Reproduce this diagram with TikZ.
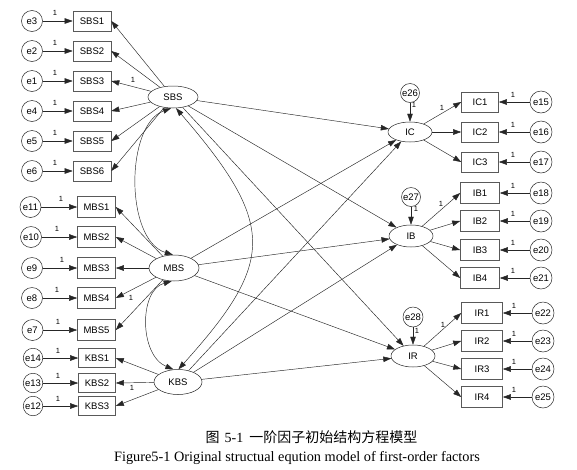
\documentclass[tikz,border=0pt]{standalone}
\usepackage{fontspec}
\setmainfont{Liberation Sans}
\newfontfamily\capfont{Liberation Serif}
\newfontfamily\cjk{Noto Sans CJK SC}
\usetikzlibrary{arrows.meta,shapes.geometric}
\begin{document}
\begin{tikzpicture}[x=1pt,y=-1pt,
  font=\fontsize{9.5}{10}\selectfont,
  lat/.style={ellipse,draw=black!85,line width=0.5pt,inner sep=0pt,minimum width=50pt,minimum height=22pt},
  obs/.style={rectangle,draw=black!65,line width=0.6pt,inner sep=0pt,minimum width=38pt,minimum height=20pt},
  err/.style={circle,draw=black!85,line width=0.5pt,inner sep=0pt,minimum size=21pt},
  arr/.style={-{Triangle[length=8pt,width=5.5pt]},line width=0.45pt,draw=black!85},
  cov/.style={{Triangle[length=8pt,width=5.5pt]}-{Triangle[length=8pt,width=5.5pt]},line width=0.45pt,draw=black!85},
  one/.style={font=\fontsize{7.5}{8}\selectfont,inner sep=0pt}
]
\fill[white] (0,0) rectangle (577,469);
\useasboundingbox (0,0) rectangle (577,469);

% latent variables
\node[lat] (SBS) at (173,97) {SBS};
\node[lat,minimum height=26pt] (MBS) at (174,268) {MBS};
\node[lat,minimum width=48pt,minimum height=25pt] (KBS) at (178,382) {KBS};
\node[lat,minimum width=44pt,minimum height=20pt] (IC) at (410,132) {IC};
\node[lat,minimum width=44pt] (IB) at (411,236) {IB};
\node[lat,minimum width=44pt] (IR) at (413,356) {IR};

% SBS indicators
\foreach \i/\y/\e in {1/21/e3,2/51/e2,3/81/e1,4/111/e4,5/141/e5,6/171/e6}{
  \node[obs] (SBS\i) at (92,\y) {SBS\i};
  \node[err] (\e) at (32,\y) {\e};
  \draw[arr] (\e) -- (SBS\i.west);
  \draw[arr] (SBS) -- (SBS\i.east);
  \node[one] at (55,\y-8) {1};
}
\node[one] (lSBS) at (133,80) {1};

% MBS indicators
\foreach \i/\y/\ex/\e/\lx in {1/207/30.5/e11/61,2/237/31/e10/57,3/268/32/e9/62,4/298/32/e8/57,5/330/32.5/e7/58}{
  \node[obs,minimum height=21pt] (MBS\i) at (96.5,\y) {MBS\i};
  \node[err] (\e) at (\ex,\y) {\e};
  \draw[arr] (\e) -- (MBS\i.west);
  \draw[arr] (MBS) -- (MBS\i.east);
  \node[one] at (\lx,\y-8) {1};
}
\node[one] (lMBS) at (131,298) {1};

% KBS indicators
\foreach \i/\y/\e in {1/358/e14,2/383/e13,3/406/e12}{
  \node[obs,minimum width=37pt,minimum height=19pt] (KBS\i) at (97,\y) {KBS\i};
  \node[err,minimum size=19.5pt] (\e) at (33,\y) {\e};
  \draw[arr] (\e) -- (KBS\i.west);
  \draw[arr] (KBS) -- (KBS\i.east);
  \node[one] at (58,\y-7) {1};
}
\node[one] (lKBS) at (132,388) {1};

% IC indicators
\foreach \i/\y/\e in {1/102/e15,2/132/e16,3/162/e17}{
  \node[obs,minimum width=37pt] (IC\i) at (480,\y) {IC\i};
  \node[err,minimum size=22pt] (\e) at (541,\y) {\e};
  \draw[arr] (\e) -- (IC\i.east);
  \draw[arr] (IC) -- (IC\i.west);
  \node[one] at (513,\y-7) {1};
}
% IB indicators
\foreach \i/\y/\e in {1/193/e18,2/221/e19,3/250/e20,4/278/e21}{
  \node[obs,minimum width=39pt,minimum height=21pt] (IB\i) at (480,\y) {IB\i};
  \node[err,minimum size=22pt] (\e) at (541,\y) {\e};
  \draw[arr] (\e) -- (IB\i.east);
  \draw[arr] (IB) -- (IB\i.west);
  \node[one] at (513,\y-7) {1};
}
% IR indicators
\foreach \i/\y/\e in {1/313/e22,2/341/e23,3/369/e24,4/397/e25}{
  \node[obs,minimum width=41pt,minimum height=21pt] (IR\i) at (482,\y) {IR\i};
  \node[err,minimum size=22pt] (\e) at (543,\y) {\e};
  \draw[arr] (\e) -- (IR\i.east);
  \draw[arr] (IR) -- (IR\i.west);
  \node[one] at (514,\y-7) {1};
}
\node[one] (lIC) at (442,108) {1};
\node[one] (lIB) at (441,204) {1};
\node[one] (lIR) at (443,325) {1};

% disturbances
\node[err,minimum size=19pt] (e26) at (410,93) {e26};
\node[err,minimum size=19pt] (e27) at (411,197) {e27};
\node[err,minimum size=20pt] (e28) at (413,317) {e28};
\draw[arr] (e26) -- (IC);
\draw[arr] (e27) -- (IB);
\draw[arr] (e28) -- (IR);
\node[one] (l26) at (414,105) {1};
\node[one] (l27) at (416,209) {1};
\node[one] (l28) at (417,331) {1};

% structural paths
\foreach \a in {SBS,MBS,KBS}{
  \foreach \b in {IC,IB,IR}{
    \draw[arr] (\a) -- (\b);
  }
}

% covariances
\draw[cov] (SBS.260) .. controls (125,125) and (125,240) .. (MBS.95);
\draw[cov] (SBS.285) .. controls (277,225) and (275,262) .. (KBS.88);
\draw[cov] (MBS.260) .. controls (139,290) and (139,355) .. (KBS.110);

% captions
\node[inner sep=0pt] (cap1) at (311.5,437) {{\cjk\fontsize{14}{15}\selectfont 图}\hspace{5pt}{\capfont\fontsize{14}{15}\selectfont 5-1}\hspace{6pt}{\cjk\fontsize{14}{15}\selectfont 一阶因子初始结构方程模型}};
\node[inner sep=0pt,font=\capfont\fontsize{14.3}{15}\selectfont] (cap2) at (297,458) {Figure5-1 Original structual eqution model of first-order factors};
\end{tikzpicture}
\end{document}
